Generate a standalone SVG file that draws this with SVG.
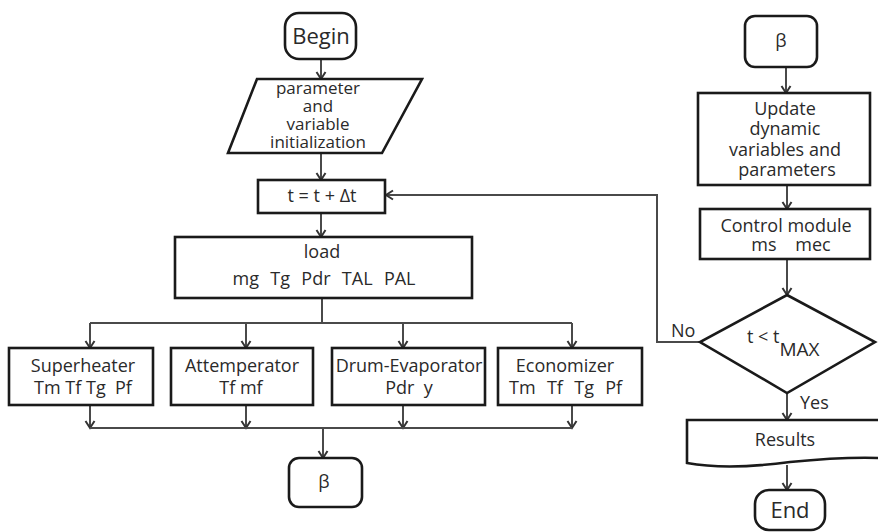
<svg xmlns="http://www.w3.org/2000/svg" width="878" height="532" viewBox="0 0 878 532">
<style>
  .box{fill:#fff;stroke:#1a1a1a;stroke-width:2.6}
  .t{font-family:"Open Sans","DejaVu Sans",sans-serif;font-size:18px;font-weight:500;fill:#2a2a2a;text-anchor:middle}
  .big{font-size:22px}
  .sm{font-size:17px}
  .lab{text-anchor:start}
  .c{fill:none;stroke:#4a4a4a;stroke-width:2}
</style>
<defs>
  <marker id="ah" markerWidth="12" markerHeight="12" refX="10" refY="6" orient="auto" markerUnits="userSpaceOnUse">
    <path d="M3,1.5 L10,6 L3,10.5" fill="none" stroke="#333" stroke-width="2"/>
  </marker>
</defs>
<rect width="878" height="532" fill="#fff"/>

<g id="connectors">
  <path class="c" d="M321,59 V79" marker-end="url(#ah)"/>
  <path class="c" d="M321,153 V180" marker-end="url(#ah)"/>
  <path class="c" d="M321,213 V237" marker-end="url(#ah)"/>
  <path class="c" d="M322,298 V323"/>
  <path class="c" d="M90,323 H572"/>
  <path class="c" d="M90,323 V348" marker-end="url(#ah)"/>
  <path class="c" d="M246,323 V348" marker-end="url(#ah)"/>
  <path class="c" d="M403,323 V348" marker-end="url(#ah)"/>
  <path class="c" d="M572,323 V348" marker-end="url(#ah)"/>
  <path class="c" d="M90,405 V428" marker-end="url(#ah)"/>
  <path class="c" d="M246,405 V428" marker-end="url(#ah)"/>
  <path class="c" d="M403,405 V428" marker-end="url(#ah)"/>
  <path class="c" d="M572,405 V428" marker-end="url(#ah)"/>
  <path class="c" d="M90,428 H572"/>
  <path class="c" d="M323,428 V458" marker-end="url(#ah)"/>
  <path class="c" d="M786,67 V93" marker-end="url(#ah)"/>
  <path class="c" d="M787,185 V209" marker-end="url(#ah)"/>
  <path class="c" d="M787,259 V295" marker-end="url(#ah)"/>
  <path class="c" d="M787,393 V420" marker-end="url(#ah)"/>
  <path class="c" d="M787,465 V490" marker-end="url(#ah)"/>
  <path class="c" d="M700,342 H657 V195 H386" marker-end="url(#ah)"/>
  <text class="t lab" x="671" y="337">No</text>
  <text class="t lab" x="800" y="409">Yes</text>
</g>

<g id="begin">
  <rect class="box" x="285" y="13" width="71" height="46" rx="14"/>
  <text class="t big" x="321" y="44">Begin</text>
</g>

<g id="init">
  <polygon class="box" points="257,79 422,79 382,153 228,153"/>
  <text class="t sm" x="318" y="94">parameter</text>
  <text class="t sm" x="318" y="112">and</text>
  <text class="t sm" x="318" y="130">variable</text>
  <text class="t sm" x="318" y="148">initialization</text>
</g>

<g id="tstep">
  <rect class="box" x="258" y="180" width="127" height="33"/>
  <text class="t" x="322" y="202">t = t + Δt</text>
</g>

<g id="load">
  <rect class="box" x="175" y="237" width="297" height="61"/>
  <text class="t" x="322" y="258">load</text>
  <text class="t" x="324" y="285" word-spacing="1" xml:space="preserve">mg  Tg  Pdr  TAL  PAL</text>
</g>

<g id="superheater">
  <rect class="box" x="9" y="348" width="144" height="57"/>
  <text class="t" x="83" y="372">Superheater</text>
  <text class="t" x="83" y="394" xml:space="preserve">Tm Tf Tg  Pf</text>
</g>

<g id="attemperator">
  <rect class="box" x="171" y="348" width="142" height="57"/>
  <text class="t" x="242" y="372">Attemperator</text>
  <text class="t" x="241" y="394">Tf mf</text>
</g>

<g id="drum">
  <rect class="box" x="332" y="348" width="153" height="57"/>
  <text class="t" x="409" y="372">Drum-Evaporator</text>
  <text class="t" x="409" y="394" xml:space="preserve">Pdr  y</text>
</g>

<g id="economizer">
  <rect class="box" x="498" y="348" width="144" height="57"/>
  <text class="t" x="565" y="372">Economizer</text>
  <text class="t lab" x="509" y="394" word-spacing="1" xml:space="preserve">Tm  Tf  Tg  Pf</text>
</g>

<g id="beta-out">
  <rect class="box" x="289" y="458" width="73" height="49" rx="10"/>
  <text class="t" x="324" y="488">β</text>
</g>

<g id="beta-in">
  <rect class="box" x="745" y="16" width="72" height="51" rx="10"/>
  <text class="t" x="781" y="47">β</text>
</g>

<g id="update">
  <rect class="box" x="698" y="93" width="172" height="92"/>
  <text class="t" x="785" y="115">Update</text>
  <text class="t" x="785" y="135">dynamic</text>
  <text class="t" x="785" y="156">variables and</text>
  <text class="t" x="787" y="176">parameters</text>
</g>

<g id="control">
  <rect class="box" x="700" y="209" width="170" height="50"/>
  <text class="t" x="786" y="232">Control module</text>
  <text class="t" x="791" y="251" xml:space="preserve">ms    mec</text>
</g>

<g id="decision">
  <polygon class="box" points="787,295 875,342 787,393 700,342"/>
  <text class="t lab" x="747" y="343">t &lt; t<tspan dy="13" font-size="19">MAX</tspan></text>
</g>

<g id="results">
  <path class="box" d="M687,420 H880 V458 C850,457 820,459 790,462 C760,466 720,469 687,463 Z"/>
  <text class="t" x="785" y="446">Results</text>
</g>

<g id="end">
  <rect class="box" x="755" y="490" width="70" height="40" rx="14"/>
  <text class="t big" x="790" y="518">End</text>
</g>
</svg>
